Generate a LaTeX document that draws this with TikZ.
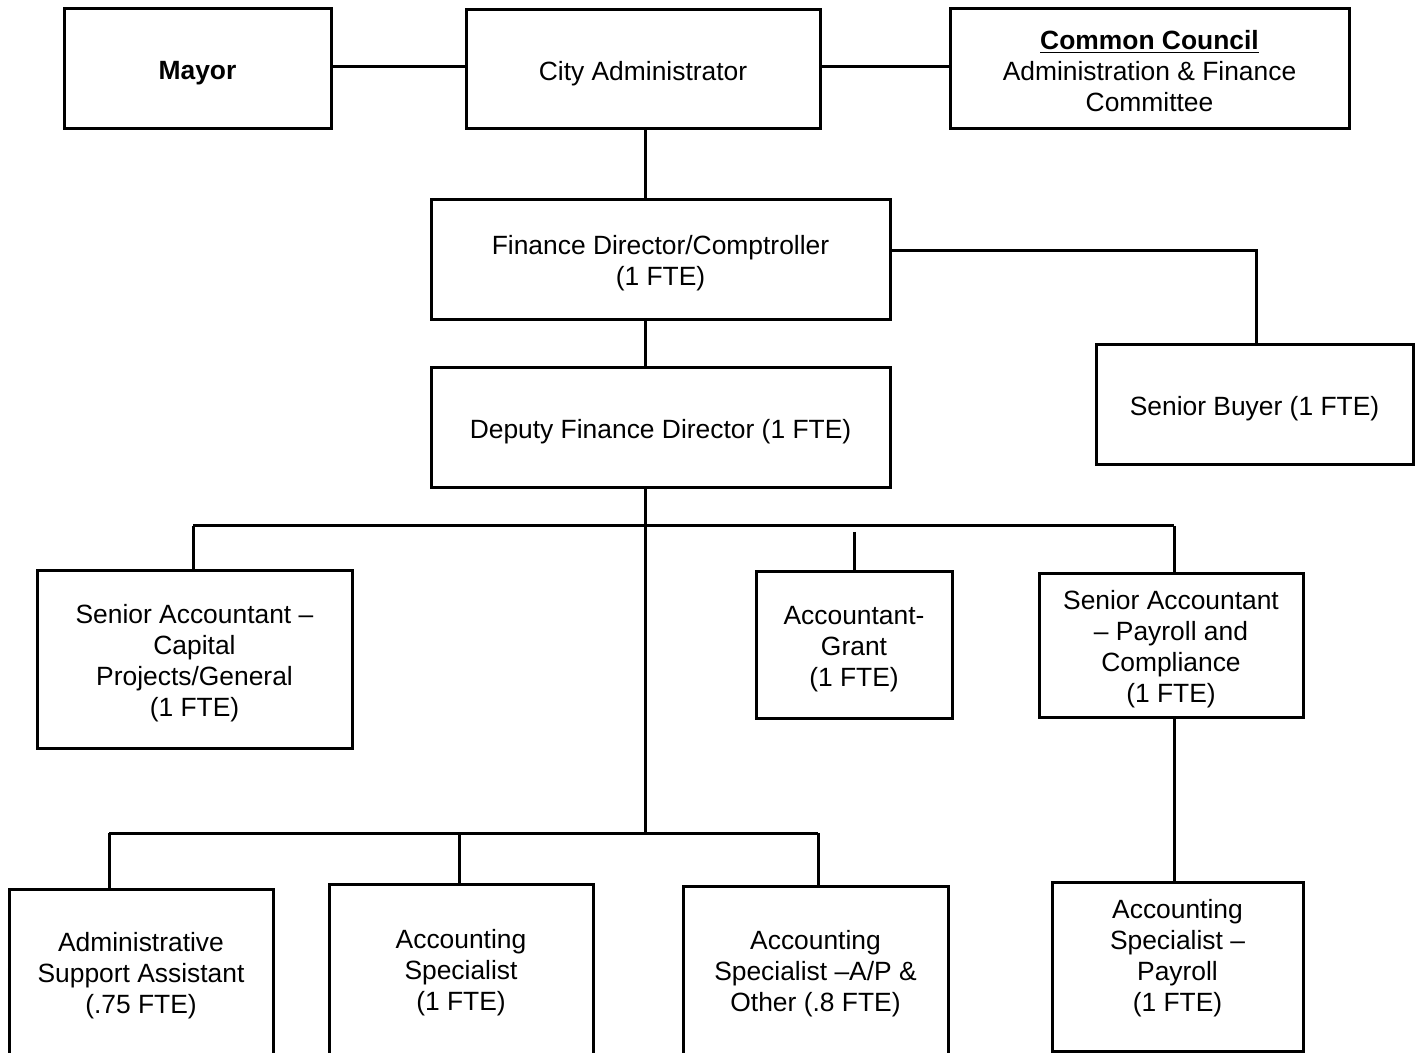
\documentclass[tikz,border=0pt]{standalone}
\usepackage{fontspec}
\setmainfont{Liberation Sans}
\begin{document}
\begin{tikzpicture}[x=0.5pt,y=-0.5pt,
  box/.style={draw=black,line width=1.5pt,fill=white,inner sep=0pt,outer sep=0pt},
  txt/.style={inner sep=0pt,align=center,font=\fontsize{13.2pt}{15.5pt}\selectfont},
  conn/.style={draw=black,line width=1.5pt}]
\newcommand\orgbox[7]{%
  \pgfmathsetmacro\obw{(#4-#2)*0.5}%
  \pgfmathsetmacro\obh{(#5-#3)*0.5}%
  \node[box,minimum width=\obw pt,minimum height=\obh pt] (#1) at ({(#2+#4)/2},{(#3+#5)/2}) {};
  \node[txt] (#1t) at ([yshift=#6]#1.center) {#7};}
\clip (0,0) rectangle (1420,1053);
\fill[white] (0,0) rectangle (1420,1053);
% nodes
\orgbox{mayor}{64}{9}{331}{129}{-1.9pt}{\textbf{Mayor}}
\orgbox{ca}{466}{10}{820}{129}{-1.9pt}{City Administrator}
\orgbox{cc}{950}{9}{1349}{129}{-1pt}{\underline{\textbf{Common Council}}\\Administration \& Finance\\Committee}
\orgbox{fd}{431}{200}{890}{320}{-1.6pt}{Finance Director/Comptroller\\(1 FTE)}
\orgbox{sb}{1096}{345}{1413}{465}{-1.9pt}{Senior Buyer (1 FTE)}
\orgbox{dep}{431}{368}{890}{488}{-1.9pt}{Deputy Finance Director (1 FTE)}
\orgbox{sac}{37}{571}{352}{748}{-1.6pt}{Senior Accountant –\\Capital\\Projects/General\\(1 FTE)}
\orgbox{ag}{756}{572}{952}{718}{-1.9pt}{Accountant-\\Grant\\(1 FTE)}
\orgbox{spc}{1039}{574}{1303}{717}{-1.9pt}{Senior Accountant\\– Payroll and\\Compliance\\(1 FTE)}
\orgbox{asa}{9}{889}{273}{1058}{-1pt}{Administrative\\Support Assistant\\(.75 FTE)}
\orgbox{acs}{329}{884}{593}{1058}{-0.6pt}{Accounting\\Specialist\\(1 FTE)}
\orgbox{aps}{683}{886}{948}{1058}{-1pt}{Accounting\\Specialist –A/P \&\\Other (.8 FTE)}
\orgbox{asp}{1052}{882}{1303}{1051}{4.0pt}{Accounting\\Specialist –\\Payroll\\(1 FTE)}
% coordinates
\coordinate (tr) at (645,0);
\coordinate (dl) at (109,833);
\coordinate (dr) at (818,833);
% connectors
\draw[conn] (mayor.east |- 0,67) -- (ca.west |- 0,67);
\draw[conn] (ca.east |- 0,67) -- (cc.west |- 0,67);
\draw[conn] (tr |- ca.south) -- (tr |- fd.north);
\draw[conn] (fd.east |- 0,251) -- (1256,251) coordinate (sbk) -- (sbk |- sb.north);
\draw[conn] (tr |- fd.south) -- (tr |- dep.north);
\draw[conn] (tr |- dep.south) -- (tr |- dl);
\draw[conn] (193,526) coordinate (bl) -- (1174,526) coordinate (br);
\draw[conn] (bl) -- (bl |- sac.north);
\draw[conn] (br) -- (br |- spc.north);
\draw[conn] (ag.north |- 0,532) -- (ag.north);
\draw[conn] (dl) -- (dr);
\draw[conn] (dl) -- (dl |- asa.north);
\draw[conn] (459,833) coordinate (dm) -- (dm |- acs.north);
\draw[conn] (dr) -- (dr |- aps.north);
\draw[conn] (br |- spc.south) -- (br |- asp.north);
\end{tikzpicture}
\end{document}
